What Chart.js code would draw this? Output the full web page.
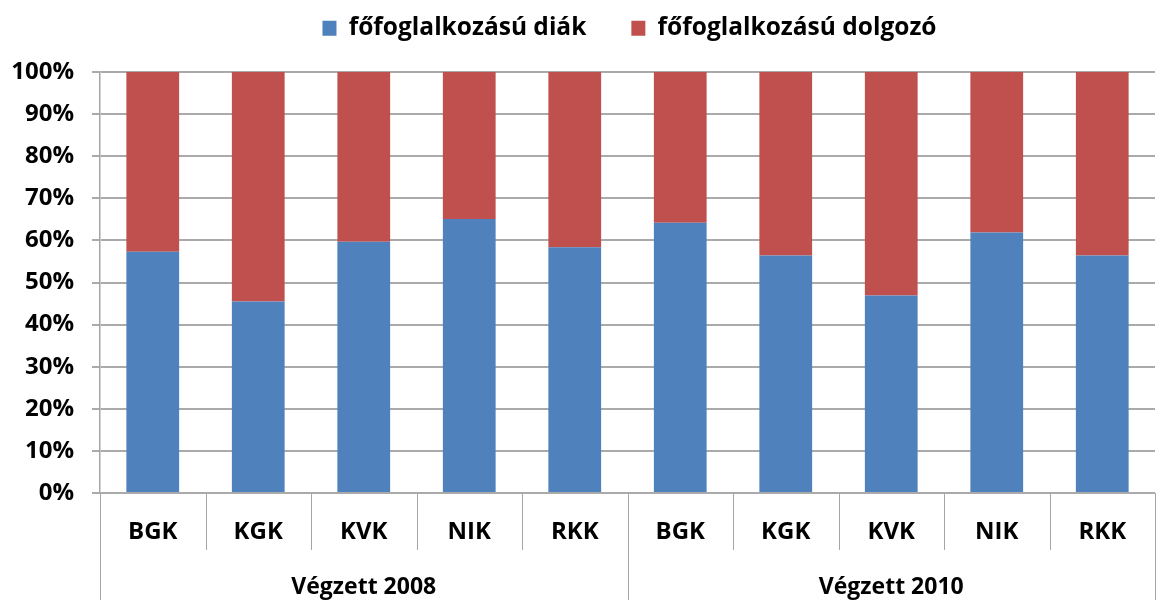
<!DOCTYPE html>
<html>
<head>
<meta charset="utf-8">
<script src="https://cdn.jsdelivr.net/npm/chart.js@4"></script>
<style>
  body { margin: 0; background: #fff; }
  #wrap { width: 1161px; height: 600px; }
</style>
</head>
<body>
<div id="wrap"><canvas id="chart" width="1161" height="600"></canvas></div>
<script>
// adatok
const karok = ["BGK", "KGK", "KVK", "NIK", "RKK"];
const csoportok = ["Végzett 2008", "Végzett 2010"];
const diak2008 = [57.3, 45.5, 59.7, 65.1, 58.4];
const diak2010 = [64.2, 56.4, 46.9, 61.9, 56.4];
const dolgozo2008 = [42.7, 54.5, 40.3, 34.9, 41.6];
const dolgozo2010 = [35.8, 43.6, 53.1, 38.1, 43.6];
const yTicks = [0, 10, 20, 30, 40, 50, 60, 70, 80, 90, 100];

const FONT = "'Open Sans'";
const labels = karok.concat(karok);
const TOP_PAD = -29;

// jelmagyarázat: több hely alatta, és kicsit jobbra tolva
const legendHeight = {
  id: "legendHeight",
  afterInit(chart) {
    const lg = chart.legend;
    const fit = lg.fit;
    lg.fit = function () {
      fit.call(this);
      this.height = 72 - TOP_PAD;
    };
  },
  afterLayout(chart) {
    chart.legend.left += 104;
  }
};

// csoport feliratok + elválasztó vonalak az x tengely alatt
const groupAxis = {
  id: "groupAxis",
  afterDraw(chart) {
    const x = chart.scales.x;
    const ctx = chart.ctx;
    const n = karok.length;
    const step = x.getPixelForValue(1) - x.getPixelForValue(0);
    ctx.save();
    ctx.strokeStyle = "#a6a6a6";
    ctx.lineWidth = 1;
    for (let i = 0; i <= labels.length; i++) {
      const px = Math.round(x.getPixelForValue(0) - step / 2 + i * step) + 0.5;
      const isGroup = i % n === 0;
      ctx.beginPath();
      ctx.moveTo(px, x.top);
      ctx.lineTo(px, isGroup ? chart.height : x.top + 57);
      ctx.stroke();
    }
    ctx.fillStyle = "#000";
    ctx.font = "bold 23px " + FONT;
    ctx.textAlign = "center";
    ctx.textBaseline = "middle";
    csoportok.forEach((g, gi) => {
      const a = x.getPixelForValue(gi * n);
      const b = x.getPixelForValue(gi * n + n - 1);
      ctx.fillText(g, (a + b) / 2, 587);
    });
    ctx.restore();
  }
};

new Chart(document.getElementById("chart"), {
  type: "bar",
  data: {
    labels: labels,
    datasets: [
      {
        label: "főfoglalkozású diák",
        data: diak2008.concat(diak2010),
        backgroundColor: "#4f81bd",
        barPercentage: 0.5,
        categoryPercentage: 1.0
      },
      {
        label: "főfoglalkozású dolgozó",
        data: dolgozo2008.concat(dolgozo2010),
        backgroundColor: "#c0504d",
        barPercentage: 0.5,
        categoryPercentage: 1.0
      }
    ]
  },
  options: {
    responsive: false,
    animation: false,
    layout: { padding: { top: TOP_PAD, right: 6, left: 0, bottom: 0 } },
    plugins: {
      tooltip: { enabled: false },
      legend: {
        position: "top",
        labels: {
          color: "#000",
          font: { family: FONT, size: 24.5, weight: "bold" },
          boxWidth: 14,
          boxHeight: 15,
          padding: 45
        }
      }
    },
    scales: {
      x: {
        stacked: true,
        grid: { display: false, drawTicks: false },
        border: { display: false },
        ticks: {
          color: "#000",
          font: { family: FONT, size: 24, weight: "bold" },
          padding: 25,
          maxRotation: 0
        },
        afterFit(s) { s.height = 107; }
      },
      y: {
        stacked: true,
        min: 0,
        max: 100,
        afterBuildTicks(s) { s.ticks = yTicks.map(v => ({ value: v })); },
        grid: { color: "#aaaaaa", lineWidth: 2, tickLength: 8 },
        border: { color: "#a6a6a6", width: 1.5 },
        ticks: {
          color: "#000",
          font: { family: FONT, size: 24, weight: "bold" },
          padding: 18,
          callback: v => v + "%"
        },
        afterFit(s) { s.width = 100; }
      }
    }
  },
  plugins: [legendHeight, groupAxis]
});
</script>
</body>
</html>
